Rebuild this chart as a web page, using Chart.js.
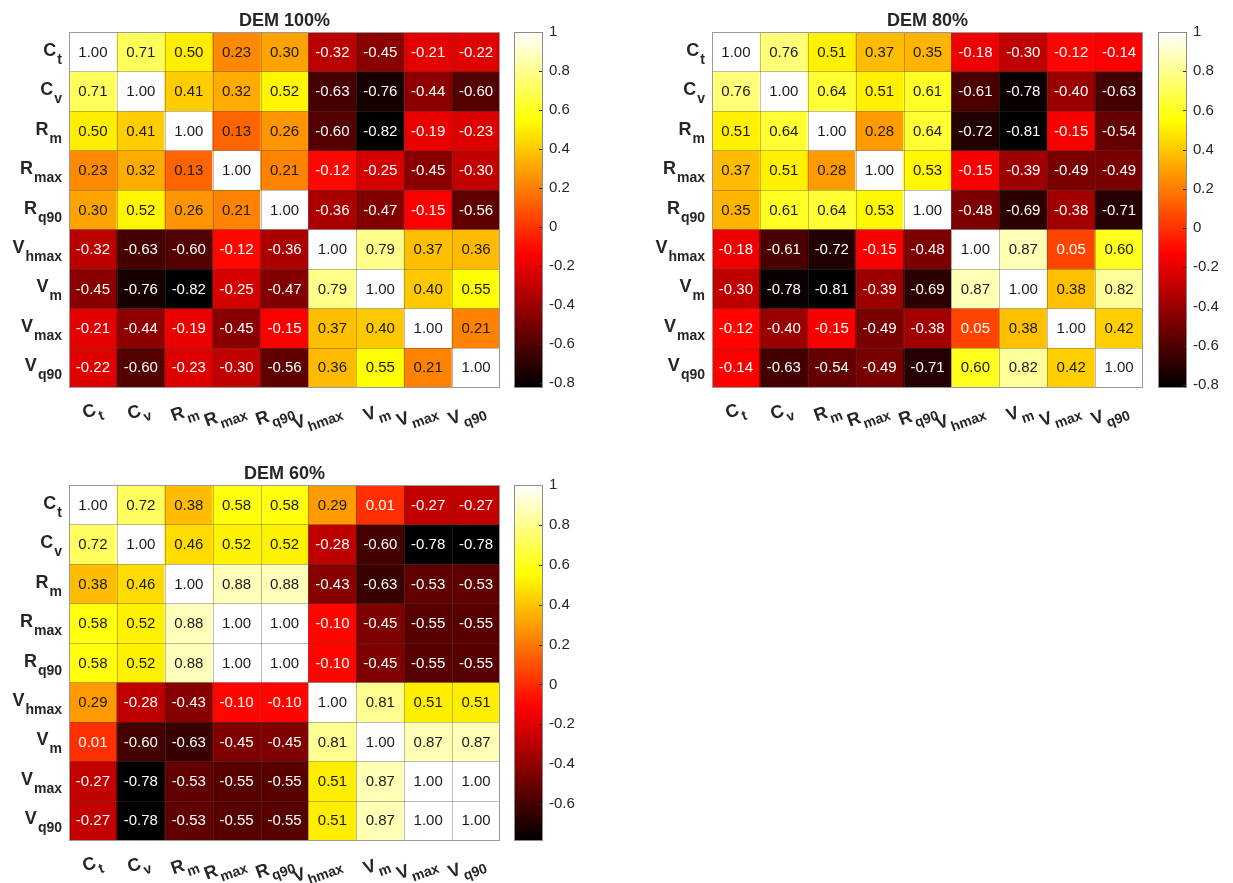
<!DOCTYPE html>
<html>
<head>
<meta charset="utf-8">
<script src="https://cdn.jsdelivr.net/npm/chart.js@4.4.1/dist/chart.umd.min.js"></script>
<style>
  html, body { margin: 0; padding: 0; background: #fff; overflow: hidden; }
  #wrap { position: relative; width: 1233px; height: 883px; }
  canvas { position: absolute; }
</style>
</head>
<body>
<div id="wrap">
  <canvas id="heat100" width="512" height="440" style="left:0px;top:0px"></canvas>
  <canvas id="bar100" width="100" height="440" style="left:505px;top:0px"></canvas>
  <canvas id="heat80" width="512" height="440" style="left:643px;top:0px"></canvas>
  <canvas id="bar80" width="100" height="440" style="left:1149px;top:0px"></canvas>
  <canvas id="heat60" width="512" height="440" style="left:0px;top:453px"></canvas>
  <canvas id="bar60" width="100" height="440" style="left:505px;top:453px"></canvas>
</div>
<script>
// Variable names: main letter and subscript
const varMain = ['C', 'C', 'R', 'R', 'R', 'V', 'V', 'V', 'V'];
const varSub  = ['t', 'v', 'm', 'max', 'q90', 'hmax', 'm', 'max', 'q90'];

// Correlation matrices (rows and columns follow varMain/varSub order)
const dem100 = [
  [ 1.00,  0.71,  0.50,  0.23,  0.30, -0.32, -0.45, -0.21, -0.22],
  [ 0.71,  1.00,  0.41,  0.32,  0.52, -0.63, -0.76, -0.44, -0.60],
  [ 0.50,  0.41,  1.00,  0.13,  0.26, -0.60, -0.82, -0.19, -0.23],
  [ 0.23,  0.32,  0.13,  1.00,  0.21, -0.12, -0.25, -0.45, -0.30],
  [ 0.30,  0.52,  0.26,  0.21,  1.00, -0.36, -0.47, -0.15, -0.56],
  [-0.32, -0.63, -0.60, -0.12, -0.36,  1.00,  0.79,  0.37,  0.36],
  [-0.45, -0.76, -0.82, -0.25, -0.47,  0.79,  1.00,  0.40,  0.55],
  [-0.21, -0.44, -0.19, -0.45, -0.15,  0.37,  0.40,  1.00,  0.21],
  [-0.22, -0.60, -0.23, -0.30, -0.56,  0.36,  0.55,  0.21,  1.00]
];
const dem80 = [
  [ 1.00,  0.76,  0.51,  0.37,  0.35, -0.18, -0.30, -0.12, -0.14],
  [ 0.76,  1.00,  0.64,  0.51,  0.61, -0.61, -0.78, -0.40, -0.63],
  [ 0.51,  0.64,  1.00,  0.28,  0.64, -0.72, -0.81, -0.15, -0.54],
  [ 0.37,  0.51,  0.28,  1.00,  0.53, -0.15, -0.39, -0.49, -0.49],
  [ 0.35,  0.61,  0.64,  0.53,  1.00, -0.48, -0.69, -0.38, -0.71],
  [-0.18, -0.61, -0.72, -0.15, -0.48,  1.00,  0.87,  0.05,  0.60],
  [-0.30, -0.78, -0.81, -0.39, -0.69,  0.87,  1.00,  0.38,  0.82],
  [-0.12, -0.40, -0.15, -0.49, -0.38,  0.05,  0.38,  1.00,  0.42],
  [-0.14, -0.63, -0.54, -0.49, -0.71,  0.60,  0.82,  0.42,  1.00]
];
const dem60 = [
  [ 1.00,  0.72,  0.38,  0.58,  0.58,  0.29,  0.01, -0.27, -0.27],
  [ 0.72,  1.00,  0.46,  0.52,  0.52, -0.28, -0.60, -0.78, -0.78],
  [ 0.38,  0.46,  1.00,  0.88,  0.88, -0.43, -0.63, -0.53, -0.53],
  [ 0.58,  0.52,  0.88,  1.00,  1.00, -0.10, -0.45, -0.55, -0.55],
  [ 0.58,  0.52,  0.88,  1.00,  1.00, -0.10, -0.45, -0.55, -0.55],
  [ 0.29, -0.28, -0.43, -0.10, -0.10,  1.00,  0.81,  0.51,  0.51],
  [ 0.01, -0.60, -0.63, -0.45, -0.45,  0.81,  1.00,  0.87,  0.87],
  [-0.27, -0.78, -0.53, -0.55, -0.55,  0.51,  0.87,  1.00,  1.00],
  [-0.27, -0.78, -0.53, -0.55, -0.55,  0.51,  0.87,  1.00,  1.00]
];

// Colour limits and colorbar ticks for each panel
const limits100 = [-0.82, 1];
const limits80  = [-0.81, 1];
const limits60  = [-0.78, 1];
const ticks100 = [1, 0.8, 0.6, 0.4, 0.2, 0, -0.2, -0.4, -0.6, -0.8];
const ticks80  = [1, 0.8, 0.6, 0.4, 0.2, 0, -0.2, -0.4, -0.6, -0.8];
const ticks60  = [1, 0.8, 0.6, 0.4, 0.2, 0, -0.2, -0.4, -0.6];

const FONT = "'Liberation Sans', Arial, Helvetica, sans-serif";
const TEXT = '#262626';

// "hot" colormap: black -> red -> yellow -> white
function hot(v, lo, hi) {
  const t = Math.min(1, Math.max(0, (v - lo) / (hi - lo)));
  const r = Math.min(1, t / 0.375);
  const g = Math.min(1, Math.max(0, (t - 0.375) / 0.375));
  const b = Math.min(1, Math.max(0, (t - 0.75) / 0.25));
  return [r, g, b];
}
function hotCss(v, lo, hi) {
  const [r, g, b] = hot(v, lo, hi);
  return `rgb(${Math.round(r * 255)},${Math.round(g * 255)},${Math.round(b * 255)})`;
}

// Label with subscript, right-aligned so that it ends at x = 0
function drawSubLabel(ctx, main, sub, subDrop) {
  ctx.font = `bold 14px ${FONT}`;
  const wSub = ctx.measureText(sub).width;
  ctx.textAlign = 'left';
  ctx.textBaseline = 'alphabetic';
  ctx.fillText(sub, -wSub, 0);
  ctx.font = `bold 18px ${FONT}`;
  ctx.textAlign = 'right';
  ctx.fillText(main, -wSub - 1, -subDrop);
}

const heatDecor = {
  id: 'heatDecor',
  afterDatasetsDraw(chart, args, opts) {
    const { ctx, chartArea: a, scales: { x, y } } = chart;
    const m = opts.matrix, lo = opts.lo, hi = opts.hi;
    const n = m.length;
    ctx.save();

    // cell separators
    ctx.strokeStyle = 'rgba(70,70,70,0.35)';
    ctx.lineWidth = 1;
    ctx.beginPath();
    for (let j = 1; j < n; j++) {
      const px = Math.round((x.getPixelForValue(j - 1) + x.getPixelForValue(j)) / 2) + 0.5;
      ctx.moveTo(px, a.top); ctx.lineTo(px, a.bottom);
    }
    for (let i = 1; i < n; i++) {
      const py = Math.round(y.getPixelForValue(i)) + 0.5;
      ctx.moveTo(a.left, py); ctx.lineTo(a.right, py);
    }
    ctx.stroke();

    // outer frame
    ctx.strokeStyle = '#9a9a9a';
    ctx.strokeRect(Math.round(a.left) + 0.5, Math.round(a.top) + 0.5,
                   Math.round(a.right - a.left) - 1, Math.round(a.bottom - a.top));

    // cell values
    ctx.font = `15px ${FONT}`;
    ctx.textAlign = 'center';
    ctx.textBaseline = 'middle';
    for (let i = 0; i < n; i++) {
      const meta = chart.getDatasetMeta(i);
      for (let j = 0; j < n; j++) {
        const bar = meta.data[j];
        const v = m[i][j];
        const [r, g, b] = hot(v, lo, hi);
        const lum = 0.299 * r + 0.587 * g + 0.114 * b;
        ctx.fillStyle = lum > 0.5 ? '#1a1a1a' : '#ffffff';
        ctx.fillText(v.toFixed(2), bar.x, (bar.y + bar.base) / 2 + 1);
      }
    }

    // row labels
    ctx.fillStyle = TEXT;
    for (let i = 0; i < n; i++) {
      const cy = y.getPixelForValue(i + 0.5);
      ctx.save();
      ctx.translate(a.left - 7, cy + 12);
      drawSubLabel(ctx, varMain[i], varSub[i], 8);
      ctx.restore();
    }

    // column labels (tilted)
    for (let j = 0; j < n; j++) {
      const cx = x.getPixelForValue(j);
      ctx.save();
      ctx.translate(cx + 12, a.bottom + 32);
      ctx.rotate(-20 * Math.PI / 180);
      drawSubLabel(ctx, varMain[j], varSub[j], 7);
      ctx.restore();
    }

    // title
    ctx.font = `bold 18px ${FONT}`;
    ctx.textAlign = 'center';
    ctx.textBaseline = 'alphabetic';
    ctx.fillStyle = TEXT;
    ctx.fillText(opts.title, (a.left + a.right) / 2, a.top - 6);
    ctx.restore();
  }
};

function heatChart(id, title, matrix, limits) {
  const [lo, hi] = limits;
  const datasets = matrix.map((row, i) => ({
    data: row.map(() => [i, i + 1]),
    backgroundColor: row.map(v => hotCss(v, lo, hi)),
    borderWidth: 0,
    barPercentage: 1,
    categoryPercentage: 1,
    grouped: false
  }));
  const canvas = document.getElementById(id);
  return new Chart(canvas, {
    type: 'bar',
    data: { labels: varMain.map((c, k) => c + varSub[k]), datasets },
    options: {
      responsive: false,
      animation: false,
      layout: { padding: { left: 69, top: 32, right: canvas.width - 500, bottom: canvas.height - 387 } },
      scales: {
        x: { type: 'category', display: false },
        y: { type: 'linear', min: 0, max: matrix.length, reverse: true, display: false }
      },
      plugins: {
        legend: { display: false },
        tooltip: { enabled: false },
        heatDecor: { matrix, lo, hi, title }
      }
    },
    plugins: [heatDecor]
  });
}

const barFrame = {
  id: 'barFrame',
  afterDatasetsDraw(chart) {
    const { ctx, chartArea: a, scales: { y } } = chart;
    ctx.save();
    ctx.strokeStyle = '#262626';
    ctx.lineWidth = 1;
    ctx.beginPath();
    y.ticks.forEach(t => {
      const py = Math.round(y.getPixelForValue(t.value)) + 0.5;
      ctx.moveTo(a.right - 4, py); ctx.lineTo(a.right, py);
    });
    ctx.stroke();
    ctx.strokeStyle = '#8c8c8c';
    ctx.strokeRect(Math.round(a.left) + 0.5, Math.round(a.top) + 0.5,
                   Math.round(a.right - a.left) - 1, Math.round(a.bottom - a.top));
    ctx.restore();
  }
};

function colorbarChart(id, limits, tickValues) {
  const [lo, hi] = limits;
  const canvas = document.getElementById(id);
  return new Chart(canvas, {
    type: 'bar',
    data: {
      labels: [''],
      datasets: [{
        data: [[lo, hi]],
        barPercentage: 1,
        categoryPercentage: 1,
        borderWidth: 0,
        backgroundColor: (c) => {
          const ch = c.chart;
          if (!ch.chartArea) return '#000';
          const ys = ch.scales.y;
          const g = ch.ctx.createLinearGradient(0, ys.getPixelForValue(lo), 0, ys.getPixelForValue(hi));
          g.addColorStop(0, '#000000');
          g.addColorStop(0.375, '#ff0000');
          g.addColorStop(0.75, '#ffff00');
          g.addColorStop(1, '#ffffff');
          return g;
        }
      }]
    },
    options: {
      responsive: false,
      animation: false,
      layout: { padding: { left: 9, top: 32, right: 12, bottom: canvas.height - 387 } },
      scales: {
        x: { display: false },
        y: {
          position: 'right',
          min: lo,
          max: hi,
          afterBuildTicks: s => { s.ticks = tickValues.map(v => ({ value: v })); },
          afterFit: s => { s.width = 50; },
          grid: { display: false, drawTicks: false },
          border: { display: false },
          ticks: {
            padding: 6,
            color: TEXT,
            font: { family: FONT, size: 15 },
            callback: v => (Math.abs(v) < 1e-9 ? '0' : String(+Number(v).toFixed(1)))
          }
        }
      },
      plugins: { legend: { display: false }, tooltip: { enabled: false } }
    },
    plugins: [barFrame]
  });
}

heatChart('heat100', 'DEM 100%', dem100, limits100);
colorbarChart('bar100', limits100, ticks100);
heatChart('heat80', 'DEM 80%', dem80, limits80);
colorbarChart('bar80', limits80, ticks80);
heatChart('heat60', 'DEM 60%', dem60, limits60);
colorbarChart('bar60', limits60, ticks60);
</script>
</body>
</html>
